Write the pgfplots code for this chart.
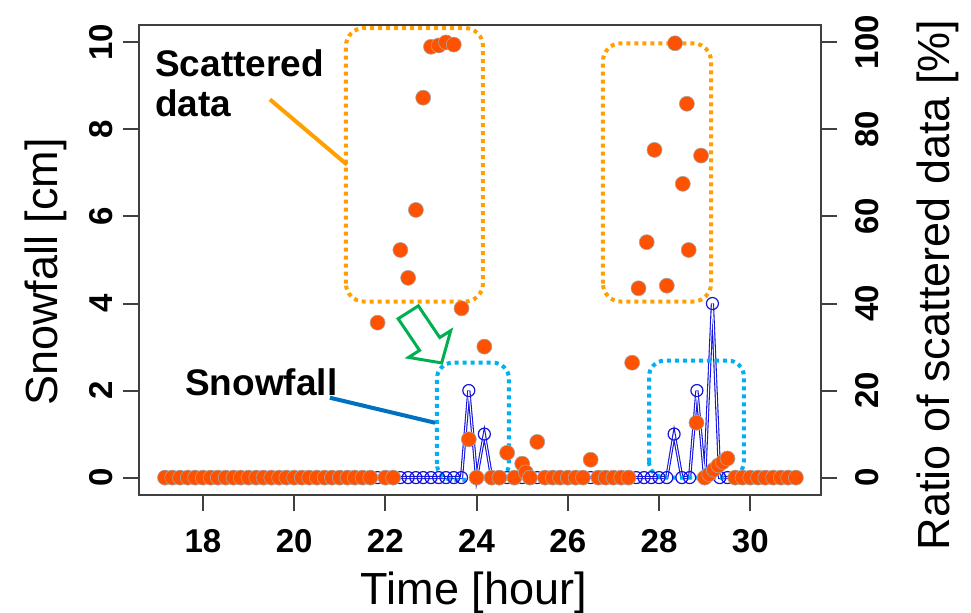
\documentclass[border=0pt]{standalone}
\usepackage{fontspec}
\setmainfont{Liberation Sans}
\usepackage{pgfplots}
\pgfplotsset{compat=1.18}
\definecolor{ptorange}{RGB}{255,82,0}
\definecolor{boxorange}{RGB}{255,160,0}
\definecolor{boxcyan}{RGB}{0,176,240}
\definecolor{annblue}{RGB}{0,112,192}
\definecolor{arrgreen}{RGB}{0,176,80}
\definecolor{snowblue}{RGB}{20,20,220}
\begin{document}
\begin{tikzpicture}
\useasboundingbox (-69.5pt,-58.5pt) rectangle (416pt,247.5pt);
\begin{axis}[
  at={(0,0)}, anchor=south west,
  scale only axis, width=341pt, height=235pt,
  xmin=16.6, xmax=31.55, ymin=-0.4, ymax=10.4,
  axis line style={draw=black!75, line width=1pt},
  every tick/.style={draw=black!75, line width=1pt},
  xtick={18,20,...,30}, ytick={0,2,...,10},
  xtick pos=bottom, ytick pos=left,
  tick align=outside, major tick length=8pt,
  /pgf/number format/assume math mode=true,
  xticklabel style={font=\bfseries\fontsize{16.5}{16.5}\selectfont, anchor=base, yshift=-20.5pt},
  yticklabel style={font=\bfseries\fontsize{16.5}{16.5}\selectfont, xshift=-5pt, rotate=90, anchor=base},
  xlabel={Time [hour]},
  ylabel={Snowfall [cm]},
  label style={font=\fontsize{22.5}{24}\selectfont},
  xlabel style={at={(axis description cs:0.491,-0.234)}, anchor=base},
  ylabel style={at={(axis description cs:-0.1188,0.4745)}, anchor=base},
  clip=true,
]
% snowfall (blue) -- hollow line look
\addplot[snowblue, line width=1.6pt, no markers] coordinates {
(17.17,0)(17.33,0)(17.5,0)(17.67,0)(17.83,0)(18,0)(18.17,0)(18.33,0)(18.5,0)(18.67,0)(18.83,0)(19,0)
(19.17,0)(19.33,0)(19.5,0)(19.67,0)(19.83,0)(20,0)(20.17,0)(20.33,0)(20.5,0)(20.67,0)(20.83,0)(21,0)
(21.17,0)(21.33,0)(21.5,0)(21.67,0)(21.83,0)(22,0)(22.17,0)(22.33,0)(22.5,0)(22.67,0)(22.83,0)(23,0)
(23.17,0)(23.33,0)(23.5,0)(23.67,0)(23.83,2)(24,0)(24.17,1)(24.33,0)(24.5,0)(24.67,0)(24.83,0)(25,0)
(25.17,0)(25.33,0)(25.5,0)(25.67,0)(25.83,0)(26,0)(26.17,0)(26.33,0)(26.5,0)(26.67,0)(26.83,0)(27,0)
(27.17,0)(27.33,0)(27.5,0)(27.67,0)(27.83,0)(28,0)(28.17,0)(28.33,1)(28.5,0)(28.67,0)(28.83,2)(29,0)
(29.17,4)(29.33,0)(29.5,0)(29.67,0)(29.83,0)(30,0)(30.17,0)(30.33,0)(30.5,0)(30.67,0)(30.83,0)(31,0)
};
\addplot[white, line width=0.5pt, no markers] coordinates {
(17.17,0)(23.67,0)(23.83,2)(24,0)(24.17,1)(24.33,0)(28.17,0)(28.33,1)(28.5,0)(28.67,0)(28.83,2)(29,0)
(29.17,4)(29.33,0)(31,0)
};
\addplot[only marks, mark=o, mark size=3pt, mark options={draw=snowblue, line width=0.6pt}] coordinates {
(17.17,0)(17.33,0)(17.5,0)(17.67,0)(17.83,0)(18,0)(18.17,0)(18.33,0)(18.5,0)(18.67,0)(18.83,0)(19,0)
(19.17,0)(19.33,0)(19.5,0)(19.67,0)(19.83,0)(20,0)(20.17,0)(20.33,0)(20.5,0)(20.67,0)(20.83,0)(21,0)
(21.17,0)(21.33,0)(21.5,0)(21.67,0)(21.83,0)(22,0)(22.17,0)(22.33,0)(22.5,0)(22.67,0)(22.83,0)(23,0)
(23.17,0)(23.33,0)(23.5,0)(23.67,0)(23.83,2)(24,0)(24.17,1)(24.33,0)(24.5,0)(24.67,0)(24.83,0)(25,0)
(25.17,0)(25.33,0)(25.5,0)(25.67,0)(25.83,0)(26,0)(26.17,0)(26.33,0)(26.5,0)(26.67,0)(26.83,0)(27,0)
(27.17,0)(27.33,0)(27.5,0)(27.67,0)(27.83,0)(28,0)(28.17,0)(28.33,1)(28.5,0)(28.67,0)(28.83,2)(29,0)
(29.17,4)(29.33,0)(29.5,0)(29.67,0)(29.83,0)(30,0)(30.17,0)(30.33,0)(30.5,0)(30.67,0)(30.83,0)(31,0)
};
% annotations
\draw[boxorange, line width=2pt, dash pattern=on 2pt off 2pt, rounded corners=9pt]
  (axis cs:21.136,4.045) rectangle (axis cs:24.14,10.33);
\draw[boxorange, line width=2pt, dash pattern=on 2pt off 2pt, rounded corners=9pt]
  (axis cs:26.77,4.045) rectangle (axis cs:29.14,9.98);
\draw[boxcyan, line width=2pt, dash pattern=on 2pt off 2pt, rounded corners=8pt]
  (axis cs:23.13,-0.05) rectangle (axis cs:24.71,2.64);
\draw[boxcyan, line width=2pt, dash pattern=on 2pt off 2pt, rounded corners=8pt]
  (axis cs:27.78,0) rectangle (axis cs:29.86,2.69);
\draw[boxorange, line width=2pt] (axis cs:19.47,8.69) -- (axis cs:21.16,7.19);
\draw[annblue, line width=2pt] (axis cs:20.785,1.835) -- (axis cs:23.09,1.26);
\draw[arrgreen, line width=1.5pt, fill=white, line join=miter]
  (axis cs:22.724,3.946) -- (axis cs:23.193,3.218) -- (axis cs:23.434,3.377) --
  (axis cs:23.235,2.634) -- (axis cs:22.509,2.762) -- (axis cs:22.750,2.924) --
  (axis cs:22.281,3.651) -- cycle;
\node[anchor=base west, inner sep=0pt, font=\bfseries\fontsize{18.5}{20}\selectfont] at (axis cs:16.947,9.224) {Scattered};
\node[anchor=base west, inner sep=0pt, font=\bfseries\fontsize{18.5}{20}\selectfont] at (axis cs:16.947,8.30) {data};
\node[anchor=base west, inner sep=0pt, font=\bfseries\fontsize{18.5}{20}\selectfont] at (axis cs:17.605,1.88) {Snowfall};
\end{axis}
\begin{axis}[
  at={(0,0)}, anchor=south west,
  scale only axis, width=341pt, height=235pt,
  xmin=16.6, xmax=31.55, ymin=-4, ymax=104,
  axis x line=none, axis y line*=right,
  axis line style={draw=black!75, line width=1pt},
  every tick/.style={draw=black!75, line width=1pt},
  ytick={0,20,...,100},
  tick align=outside, major tick length=8pt,
  /pgf/number format/assume math mode=true,
  yticklabel style={font=\bfseries\fontsize{16.5}{16.5}\selectfont, xshift=20.5pt, rotate=90, anchor=base},
  ylabel={Ratio of scattered data [\%]},
  ylabel style={font=\fontsize{22.5}{24}\selectfont, at={(axis description cs:1.189,0.447)}, anchor=base, rotate=0},
  clip=false,
]
\addplot[only marks, mark=*, mark size=3.75pt, mark options={fill=ptorange, draw=black!35, line width=0.3pt}] coordinates {
(17.17,0)(17.33,0)(17.5,0)(17.67,0)(17.83,0)(18,0)(18.17,0)(18.33,0)(18.5,0)(18.67,0)(18.83,0)(19,0)
(19.17,0)(19.33,0)(19.5,0)(19.67,0)(19.83,0)(20,0)(20.17,0)(20.33,0)(20.5,0)(20.67,0)(20.83,0)(21,0)
(21.17,0)(21.33,0)(21.5,0)(21.67,0)(21.83,35.6)(22,0)(22.17,0)(22.33,52.3)(22.5,45.9)(22.67,61.5)
(22.83,87.3)(23,99.0)(23.17,99.3)(23.33,100)(23.5,99.5)(23.67,38.9)(23.83,8.8)(24,0)(24.17,30.1)
(24.33,0)(24.5,0)(24.67,5.7)(24.83,0)(25,3.2)(25.08,1.2)(25.17,0)(25.33,8.2)(25.5,0)(25.67,0)
(25.83,0)(26,0)(26.17,0)(26.33,0)(26.5,4.1)(26.67,0)(26.83,0)(27,0)(27.17,0)(27.33,0)
(27.41,26.4)(27.55,43.5)(27.73,54.1)(27.9,75.3)(28.17,44.1)(28.35,99.8)(28.52,67.5)(28.61,85.9)
(28.65,52.3)(28.82,12.6)(28.92,74.0)(29,0)(29.1,0.8)(29.2,1.8)(29.3,2.8)(29.4,3.6)(29.5,4.4)
(29.67,0)(29.83,0)(30,0)(30.17,0)(30.33,0)(30.5,0)(30.67,0)(30.83,0)(31,0)
};
\end{axis}
\end{tikzpicture}
\end{document}
